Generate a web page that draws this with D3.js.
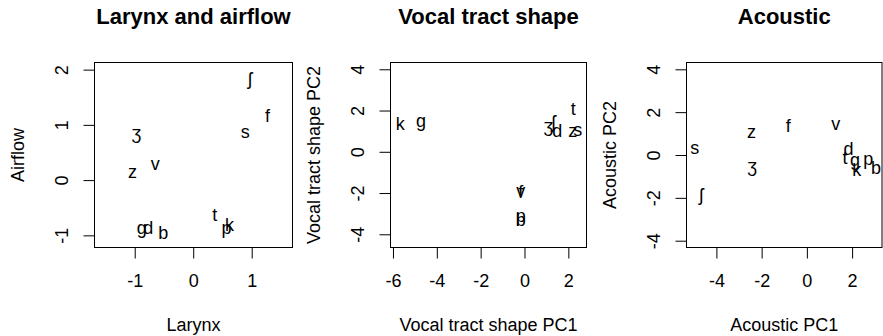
<!DOCTYPE html>
<html>
<head>
<meta charset="utf-8">
<script src="https://cdn.jsdelivr.net/npm/d3@7"></script>
<style>
  body { margin: 0; background: #fff; }
  svg text { font-family: "Liberation Sans", Arial, sans-serif; fill: #000; }
</style>
</head>
<body>
<svg id="chart" width="883" height="336"></svg>
<script>
"use strict";

// consonant labels, same order in every panel
var consonants = ["p", "b", "t", "d", "k", "g", "f", "v", "s", "z", "ʃ", "ʒ"];

// panel 1: larynx vs airflow
var larynx  = [0.57, -0.51, 0.37, -0.77, 0.62, -0.88, 1.27, -0.65, 0.89, -1.04, 0.97, -0.97];
var airflow = [-0.87, -0.96, -0.63, -0.87, -0.81, -0.87, 1.16, 0.29, 0.88, 0.15, 1.84, 0.86];

// panel 2: vocal tract shape PCs
var vtPC1 = [-0.17, -0.17, 2.23, 1.50, -5.67, -4.72, -0.17, -0.17, 2.43, 2.20, 1.32, 1.09];
var vtPC2 = [-3.11, -3.31, 2.11, 1.02, 1.38, 1.52, -1.95, -1.89, 1.06, 1.02, 1.46, 1.25];

// panel 3: acoustic PCs
var acPC1 = [2.72, 3.06, 1.69, 1.84, 2.21, 2.13, -0.82, 1.28, -4.96, -2.45, -4.67, -2.42];
var acPC2 = [-0.15, -0.57, -0.11, 0.31, -0.70, -0.23, 1.35, 1.48, 0.36, 1.09, -1.87, -0.51];

var larynxTicks  = [-1, 0, 1];
var airflowTicks = [-1, 0, 1, 2];
var vtTicksX = [-6, -4, -2, 0, 2];
var vtTicksY = [-4, -2, 0, 2, 4];
var acTicksX = [-4, -2, 0, 2];
var acTicksY = [-4, -2, 0, 2, 4];

var svg = d3.select("#chart");

var plotTop = 63, plotBottom = 247;

// plain hyphen minus, like R
function fmt(d) { return String(d); }

function drawPanel(cfg) {
  var x = d3.scaleLinear().domain(cfg.xDomain).range([cfg.left, cfg.right]);
  var y = d3.scaleLinear().domain(cfg.yDomain).range([plotBottom, plotTop]);
  var g = svg.append("g");

  // x axis
  var xa = g.append("g")
    .attr("transform", "translate(0," + (plotBottom + 0.5) + ")")
    .call(d3.axisBottom(x).tickValues(cfg.xTicks).tickSize(11).tickPadding(16).tickSizeOuter(0)
      .tickFormat(fmt));
  xa.select(".domain").remove();
  xa.selectAll("line").attr("stroke", "#000");
  xa.selectAll("text").attr("font-size", 18).attr("font-family", null);

  // y axis, labels turned like R
  var ya = g.append("g")
    .attr("transform", "translate(" + (cfg.left - 0.5) + ",0)")
    .call(d3.axisLeft(y).tickValues(cfg.yTicks).tickSize(11).tickSizeOuter(0)
      .tickFormat(fmt));
  ya.select(".domain").remove();
  ya.selectAll("line").attr("stroke", "#000");
  ya.selectAll("text")
    .attr("x", null).attr("dy", null)
    .attr("font-size", 18).attr("font-family", null)
    .attr("text-anchor", "middle")
    .attr("transform", "translate(-27,0) rotate(-90)");

  // box
  g.append("rect")
    .attr("x", cfg.left - 0.5)
    .attr("y", plotTop - 0.5)
    .attr("width", cfg.right - cfg.left + 1)
    .attr("height", plotBottom - plotTop + 1)
    .attr("fill", "none")
    .attr("stroke", "#000")
    .attr("stroke-width", 1);

  // point labels
  g.selectAll("text.pt")
    .data(consonants)
    .enter().append("text")
    .attr("class", "pt")
    .attr("x", function (d, i) { return x(cfg.xs[i]); })
    .attr("y", function (d, i) { return y(cfg.ys[i]); })
    .attr("dy", "0.35em")
    .attr("text-anchor", "middle")
    .attr("font-size", 18)
    .text(function (d) { return d; });

  var mid = (cfg.left + cfg.right) / 2;
  g.append("text")
    .attr("x", mid).attr("y", 24)
    .attr("text-anchor", "middle")
    .attr("font-size", 22)
    .attr("font-weight", "bold")
    .text(cfg.title);

  g.append("text")
    .attr("x", mid).attr("y", plotBottom + 84)
    .attr("text-anchor", "middle")
    .attr("font-size", 18)
    .text(cfg.xLabel);

  g.append("text")
    .attr("transform", "translate(" + (cfg.left - 71) + "," + ((plotTop + plotBottom) / 2) + ") rotate(-90)")
    .attr("text-anchor", "middle")
    .attr("font-size", 18)
    .text(cfg.yLabel);
}

drawPanel({
  title: "Larynx and airflow", xLabel: "Larynx", yLabel: "Airflow",
  left: 95, right: 292,
  xDomain: [-1.679, 1.689], yDomain: [-1.211, 2.12],
  xTicks: larynxTicks, yTicks: airflowTicks,
  xs: larynx, ys: airflow
});

drawPanel({
  title: "Vocal tract shape", xLabel: "Vocal tract shape PC1", yLabel: "Vocal tract shape PC2",
  left: 391, right: 586,
  xDomain: [-6.09, 2.806], yDomain: [-4.616, 4.305],
  xTicks: vtTicksX, yTicks: vtTicksY,
  xs: vtPC1, ys: vtPC2
});

drawPanel({
  title: "Acoustic", xLabel: "Acoustic PC1", yLabel: "Acoustic PC2",
  left: 687, right: 881.5,
  xDomain: [-5.30, 3.30], yDomain: [-4.294, 4.294],
  xTicks: acTicksX, yTicks: acTicksY,
  xs: acPC1, ys: acPC2
});
</script>
</body>
</html>
